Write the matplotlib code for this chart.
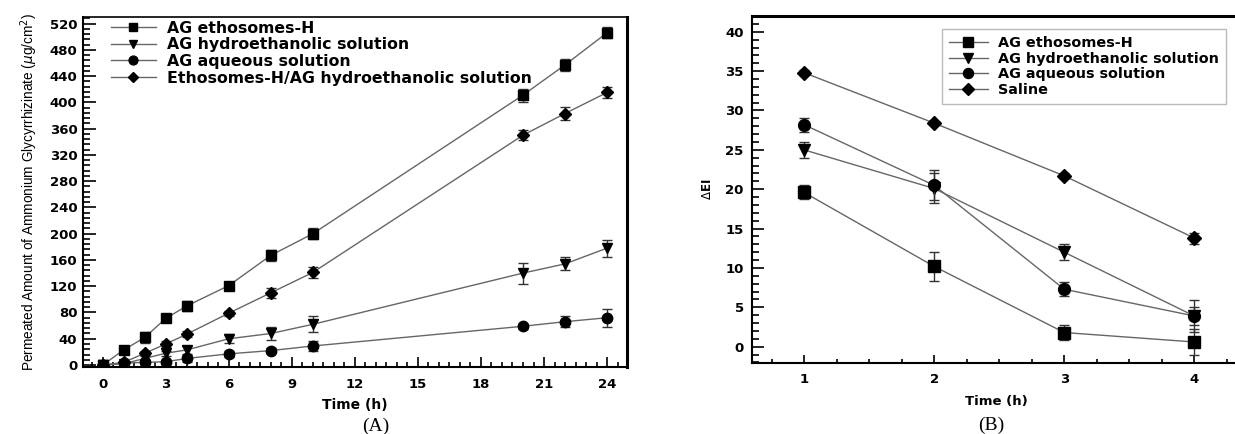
import numpy as np
import matplotlib
matplotlib.use('Agg')
import matplotlib.pyplot as plt
from matplotlib.ticker import MultipleLocator

plt.rcParams['font.family'] = ['DejaVu Sans']

# ---- panel A data ----
time_a = [0, 1, 2, 3, 4, 6, 8, 10, 20, 22, 24]
etho_a = [0, 23, 42, 71, 90, 121, 167, 200, 411, 457, 506]
etho_a_err = [4, 4, 8, 5, 7, 6, 8, 8, 10, 9, 8]
hydro_a = [0, 2, 10, 18, 23, 40, 48, 62, 140, 154, 178]
hydro_a_err = [8, 3, 5, 4, 6, 7, 10, 12, 16, 10, 13]
aq_a = [0, 3, 4, 5, 10, 17, 22, 29, 59, 66, 72]
aq_a_err = [2, 2, 3, 3, 5, 5, 4, 7, 4, 8, 14]
mix_a = [0, 4, 18, 32, 47, 79, 110, 141, 350, 383, 415]
mix_a_err = [2, 3, 4, 4, 5, 4, 8, 9, 8, 10, 9]
labels_a = ['AG ethosomes-H', 'AG hydroethanolic solution',
            'AG aqueous solution', 'Ethosomes-H/AG hydroethanolic solution']

# ---- panel B data ----
time_b = [1, 2, 3, 4]
etho_b = [19.6, 10.2, 1.8, 0.6]
etho_b_err = [0.9, 1.8, 1.0, 1.7]
hydro_b = [25.0, 20.1, 12.0, 3.9]
hydro_b_err = [1.0, 1.9, 1.0, 1.2]
aq_b = [28.2, 20.5, 7.3, 3.9]
aq_b_err = [0.9, 1.9, 0.9, 2.0]
saline_b = [34.8, 28.4, 21.7, 13.8]
saline_b_err = [0.3, 0.3, 0.3, 0.7]
labels_b = ['AG ethosomes-H', 'AG hydroethanolic solution',
            'AG aqueous solution', 'Saline']

markers = ['s', 'v', 'o', 'D']

fig = plt.figure(figsize=(12.35, 4.34), dpi=100)
ax1 = fig.add_axes([0.0672, 0.1544, 0.4405, 0.8065])
ax2 = fig.add_axes([0.6089, 0.1636, 0.395, 0.7995])


def draw(ax, t, series, errs, labels, sizes):
    for y, e, m, ms, lab in zip(series, errs, markers, sizes, labels):
        ax.errorbar(t, y, yerr=e, fmt='none', ecolor='#333333', elinewidth=1,
                    capsize=3.6, capthick=1)
        ax.plot(t, y, marker=m, markersize=ms, color='#666666', mfc='black',
                mec='black', linewidth=1, label=lab)


draw(ax1, time_a, [etho_a, hydro_a, aq_a, mix_a],
     [etho_a_err, hydro_a_err, aq_a_err, mix_a_err], labels_a,
     [6.5, 6.5, 7.5, 6])
draw(ax2, time_b, [etho_b, hydro_b, aq_b, saline_b],
     [etho_b_err, hydro_b_err, aq_b_err, saline_b_err], labels_b,
     [8, 8, 8.5, 7])

# axes A
ax1.set_xlim(-0.94, 24.95)
ax1.set_ylim(-3, 530)
ax1.xaxis.set_major_locator(MultipleLocator(3))
ax1.xaxis.set_minor_locator(MultipleLocator(0.5))
ax1.yaxis.set_major_locator(MultipleLocator(40))
ax1.yaxis.set_minor_locator(MultipleLocator(8))
ax1.set_xlabel('Time (h)', fontsize=10, fontweight='bold', labelpad=5)
ax1.set_ylabel('Permeated Amount of Ammonium Glycyrrhizinate ($\\mu$g/cm$^2$)',
               fontsize=9.8, family='Liberation Sans', labelpad=7)
ax1.spines['right'].set_linewidth(2.2)
ax1.spines['top'].set_linewidth(1.2)
ax1.tick_params(axis='y', which='major', length=9.5, pad=4)
ax1.tick_params(axis='y', which='minor', length=5)
ax1.tick_params(axis='x', which='major', length=7.5, pad=8)
ax1.tick_params(axis='x', which='minor', length=3.5)
ax1.legend(loc='upper left', bbox_to_anchor=(0.045, 0.998), frameon=False,
           handlelength=2.9, labelspacing=0.1, borderaxespad=0, borderpad=0.2,
           handletextpad=0.7, markerscale=0.85,
           prop={'weight': 'bold', 'size': 11.3})

# axes B
ax2.set_xlim(0.6, 4.35)
ax2.set_ylim(-2.07, 42.0)
ax2.xaxis.set_major_locator(MultipleLocator(1))
ax2.xaxis.set_minor_locator(MultipleLocator(0.25))
ax2.yaxis.set_major_locator(MultipleLocator(5))
ax2.yaxis.set_minor_locator(MultipleLocator(1))
ax2.set_xlabel('Time (h)', fontsize=9.5, fontweight='bold', labelpad=7)
ax2.set_ylabel('$\\Delta$EI', fontsize=8.5, fontweight='bold', labelpad=8)
ax2.spines['top'].set_linewidth(2.2)
ax2.spines['right'].set_visible(False)
ax2.tick_params(axis='y', which='major', length=8.5, pad=6)
ax2.tick_params(axis='y', which='minor', length=5)
ax2.tick_params(axis='x', which='major', length=6, pad=7)
ax2.tick_params(axis='x', which='minor', length=3)
leg = ax2.legend(loc='upper left', bbox_to_anchor=(0.389, 0.9625),
                 handlelength=2.7, labelspacing=0.1, handletextpad=0.7,
                 borderpad=0.5, borderaxespad=0, fancybox=False,
                 markerscale=0.85, prop={'weight': 'bold', 'size': 10.4})
leg.get_frame().set_edgecolor('#aaaaaa')
leg.get_frame().set_linewidth(1.0)

for ax in (ax1, ax2):
    ax.tick_params(which='both', direction='in', labelsize=9.5, width=1.2,
                   top=False, right=False)
    for lab in ax.get_xticklabels() + ax.get_yticklabels():
        lab.set_fontweight('bold')
    ax.spines['left'].set_linewidth(1.5)
    ax.spines['bottom'].set_linewidth(1.5)

fig.text(0.3045, 0.018, '(A)', fontsize=14, family='Liberation Serif',
         ha='center', va='center')
fig.text(0.8024, 0.02, '(B)', fontsize=14, family='Liberation Serif',
         ha='center', va='center')

fig.savefig('out.png', dpi=100)
